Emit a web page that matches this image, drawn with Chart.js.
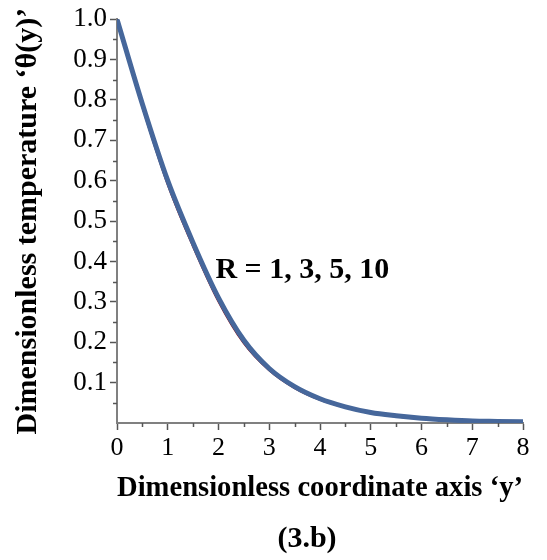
<!DOCTYPE html>
<html>
<head>
<meta charset="utf-8">
<script src="https://cdn.jsdelivr.net/npm/chart.js@4.4.1/dist/chart.umd.min.js"></script>
<style>
  html, body { margin: 0; padding: 0; background: #ffffff; }
  #wrap { width: 547px; height: 560px; position: relative; }
  .fp { position: absolute; left: -9999px; top: 0; font-family: "Liberation Serif", "DejaVu Serif", serif; }
</style>
</head>
<body>
<div id="wrap"><canvas id="c"></canvas></div>
<span class="fp">Dimensionless 0123</span><span class="fp" style="font-weight:bold">Dimensionless 0123</span>
<script>
// ---- data ----
const yCoord = [0, 0.5, 1, 1.5, 2, 2.5, 3, 3.5, 4, 4.5, 5, 5.5, 6, 6.5, 7, 7.5, 8];
const thetaR1  = [1.00, 0.785, 0.592, 0.438, 0.302, 0.198, 0.131, 0.087, 0.058, 0.039, 0.025, 0.017, 0.011, 0.0075, 0.005, 0.0035, 0.0025];
const thetaR3  = [1.00, 0.788, 0.596, 0.442, 0.306, 0.201, 0.133, 0.089, 0.059, 0.040, 0.026, 0.018, 0.012, 0.008, 0.005, 0.004, 0.003];
const thetaR5  = [1.00, 0.789, 0.598, 0.444, 0.308, 0.203, 0.134, 0.090, 0.060, 0.040, 0.026, 0.018, 0.012, 0.008, 0.005, 0.004, 0.003];
const thetaR10 = [1.00, 0.790, 0.600, 0.446, 0.310, 0.205, 0.135, 0.090, 0.060, 0.040, 0.026, 0.018, 0.012, 0.008, 0.005, 0.004, 0.003];
const seriesNames = ['R = 1', 'R = 3', 'R = 5', 'R = 10'];
const yTickLabels = ['0.1', '0.2', '0.3', '0.4', '0.5', '0.6', '0.7', '0.8', '0.9', '1.0'];
const xTickLabels = ['0', '1', '2', '3', '4', '5', '6', '7', '8'];
const xTitle = 'Dimensionless coordinate axis \u2018y\u2019';
const yTitle = 'Dimensionless temperature \u2018\u03b8(y)\u2019';
const annotationText = 'R = 1, 3, 5, 10';
const captionText = '(3.b)';

const FONT = '"Liberation Serif", "DejaVu Serif", serif';
const pts = arr => yCoord.map((x, i) => ({ x: x, y: arr[i] }));

const isMajorY = v => { const k = Math.round(v * 100); return k % 10 === 0; };
const isMajorX = v => Math.abs(v - Math.round(v)) < 1e-6;

const extras = {
  id: 'extras',
  afterDraw(chart) {
    const ctx = chart.ctx, xs = chart.scales.x, ys = chart.scales.y;
    ctx.save();
    ctx.strokeStyle = '#555555';
    ctx.lineWidth = 1.5;
    ys.ticks.forEach(t => {
      if (!isMajorY(t.value)) {
        const py = Math.round(ys.getPixelForValue(t.value)) + 0.5;
        ctx.beginPath(); ctx.moveTo(ys.right - 4, py); ctx.lineTo(ys.right, py); ctx.stroke();
      }
    });
    xs.ticks.forEach(t => {
      if (!isMajorX(t.value)) {
        const px = Math.round(xs.getPixelForValue(t.value)) + 0.5;
        ctx.beginPath(); ctx.moveTo(px, xs.top); ctx.lineTo(px, xs.top + 4); ctx.stroke();
      }
    });
    ctx.fillStyle = '#000000';
    ctx.font = 'bold 30px ' + FONT;
    ctx.textAlign = 'left';
    ctx.textBaseline = 'alphabetic';
    ctx.fillText(annotationText, xs.getPixelForValue(1.94), ys.getPixelForValue(0.36));
    ctx.textAlign = 'center';
    ctx.fillText(captionText, 307, 547);
    ctx.restore();
  }
};

function draw() {
  new Chart(document.getElementById('c'), {
    type: 'line',
    data: {
      datasets: [
        { label: seriesNames[0], data: pts(thetaR1),  borderColor: '#8b1020', borderWidth: 2.5, order: 3 },
        { label: seriesNames[1], data: pts(thetaR3),  borderColor: '#2a6e2a', borderWidth: 2.5, order: 2 },
        { label: seriesNames[2], data: pts(thetaR5),  borderColor: '#333366', borderWidth: 3, order: 1 },
        { label: seriesNames[3], data: pts(thetaR10), borderColor: '#46679b', borderWidth: 5, order: 0 }
      ]
    },
    plugins: [extras],
    options: {
      responsive: true,
      maintainAspectRatio: false,
      animation: false,
      layout: { padding: { top: 16, right: 24, bottom: 0, left: 0 } },
      elements: {
        point: { radius: 0, hoverRadius: 0 },
        line: { cubicInterpolationMode: 'monotone', fill: false }
      },
      plugins: { legend: { display: false }, tooltip: { enabled: false }, title: { display: false } },
      scales: {
        x: {
          type: 'linear',
          min: 0, max: 8,
          afterFit: s => { s.height = 137; },
          border: { display: true, color: '#808080', width: 2 },
          grid: {
            display: true, drawOnChartArea: false, tickLength: 7, tickWidth: 1.5,
            tickColor: c => (c.tick && isMajorX(c.tick.value)) ? '#555555' : 'rgba(0,0,0,0)'
          },
          ticks: {
            stepSize: 0.5, autoSkip: false, maxRotation: 0, padding: 3,
            color: '#000000', font: { family: FONT, size: 26 },
            callback: v => isMajorX(v) ? xTickLabels[Math.round(v)] : ''
          },
          title: {
            display: true, text: xTitle, color: '#000000',
            font: { family: FONT, size: 30, weight: 'bold' },
            padding: { top: 0, bottom: 54 }
          }
        },
        y: {
          type: 'linear',
          min: 0, max: 1,
          afterFit: s => { s.width = 117; },
          border: { display: true, color: '#808080', width: 2 },
          grid: {
            display: true, drawOnChartArea: false, tickLength: 7, tickWidth: 1.5,
            tickColor: c => (c.tick && isMajorY(c.tick.value) && Math.round(c.tick.value * 100) !== 0) ? '#555555' : 'rgba(0,0,0,0)'
          },
          ticks: {
            stepSize: 0.05, autoSkip: false, padding: 3,
            color: '#000000', font: { family: FONT, size: 27 },
            callback: v => { const k = Math.round(v * 100); return (k % 10 === 0 && k > 0) ? yTickLabels[k / 10 - 1] : ''; }
          },
          title: {
            display: true, text: yTitle, color: '#000000',
            font: { family: FONT, size: 30, weight: 'bold' },
            padding: { top: 10, bottom: 0 }
          }
        }
      }
    }
  });
}

Promise.all([
  document.fonts.load('27px "Liberation Serif"'),
  document.fonts.load('bold 30px "Liberation Serif"')
]).then(draw, draw);
</script>
</body>
</html>
